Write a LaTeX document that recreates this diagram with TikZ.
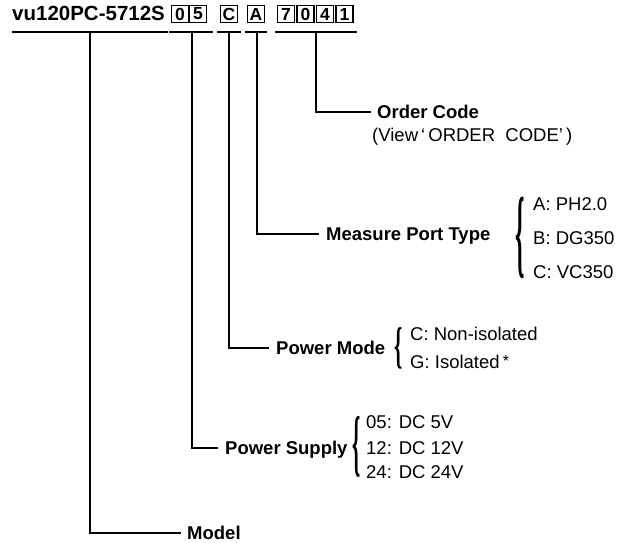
\documentclass[tikz,border=0pt]{standalone}
\usepackage{fontspec}
\setmainfont{Liberation Sans}
\newfontfamily\bracefont{Liberation Serif}
\begin{document}
\begin{tikzpicture}[x=1pt,y=-1pt,
  conn/.style={line width=1.1pt,line cap=rect},
  digit/.style={draw,line width=1.1pt,minimum width=17pt,minimum height=16.5pt,inner sep=0pt,font=\fontsize{17.5}{17.5}\bfseries\selectfont},
  lab/.style={anchor=west,inner sep=0pt,font=\fontsize{18.5}{18.5}\bfseries\selectfont,text height=13pt,text depth=0pt},
  item/.style={anchor=west,inner sep=0pt,font=\fontsize{18.5}{18.5}\selectfont,text height=13pt,text depth=0pt},
  brglyph/.style={inner sep=0pt,anchor=center}]
\useasboundingbox (0,0) rectangle (632,542);
% title and code boxes
\node[anchor=base west,inner sep=0pt,font=\fontsize{20.5}{20.5}\bfseries\selectfont] (title) at (12,20) {vu120PC-5712S};
\node[digit] (d0) at (180,14) {0};
\node[digit] (d5) at (198,14) {5};
\node[digit] (dC) at (229,14) {C};
\node[digit] (dA) at (256,14) {A};
\node[digit] (d7) at (286,14) {7};
\node[digit] (d0b) at (305.5,14) {0};
\node[digit] (d4) at (325,14) {4};
\node[digit] (d1) at (344.5,14) {1};
% underlines
\coordinate (ut1) at (13,32);  \coordinate (ut2) at (167,32);
\coordinate (us1) at (170,32); \coordinate (us2) at (212,32);
\coordinate (um1) at (218,32); \coordinate (um2) at (240,32);
\coordinate (up1) at (246,32); \coordinate (up2) at (266,32);
\coordinate (uo1) at (276,32); \coordinate (uo2) at (356,32);
\draw[conn] (ut1) -- (ut2);
\draw[conn] (us1) -- (us2);
\draw[conn] (um1) -- (um2);
\draw[conn] (up1) -- (up2);
\draw[conn] (uo1) -- (uo2);
\coordinate (vmodel) at (90,32);
\coordinate (vps) at (192,32);
\coordinate (vpm) at (229,32);
\coordinate (vmp) at (257,32);
\coordinate (voc) at (316,32);
% labels
\node[lab] (oc) at (377,112) {Order Code};
\node[item,anchor=west] (ocv) at (372,135) {(View\,‘\,ORDER\ \ CODE’\,)};
\node[lab] (mp) at (326,234) {Measure Port Type};
\node[lab] (pm) at (276,348) {Power Mode};
\node[lab] (ps) at (225,448) {Power Supply};
\node[lab] (model) at (187,533) {Model};
% connectors
\draw[conn] (voc) |- ([xshift=-7pt]oc.west);
\draw[conn] (vmp) |- ([xshift=-8pt]mp.west);
\draw[conn] (vpm) |- ([xshift=-8pt]pm.west);
\draw[conn] (vps) |- ([xshift=-8pt]ps.west);
\draw[conn] (vmodel) |- ([xshift=-7pt]model.west);
% measure port items
\node[item] (mpa) at (533,204) {A: PH2.0};
\node[item] (mpb) at (533,238) {B: DG350};
\node[item] (mpc) at (533,272) {C: VC350};
\node[brglyph] (mpbr) at (520,238) {\scalebox{1}[4.1]{\fontsize{24}{24}\bracefont\bfseries\{}};
% power mode items
\node[item] (pmc) at (410,334) {C: Non-isolated};
\node[item] (pmg) at (410,362) {G: Isolated\,\raisebox{2pt}{\fontsize{16}{16}\selectfont *}};
\node[brglyph] (pmbr) at (399,348) {\scalebox{1}[2.4]{\fontsize{21}{21}\bracefont\bfseries\{}};
% power supply items
\node[item] (ps05) at (366,422) {05: DC 5V};
\node[item] (ps12) at (366,448) {12: DC 12V};
\node[item] (ps24) at (366,472) {24: DC 24V};
\node[brglyph] (psbr) at (357,447) {\scalebox{1}[3.5]{\fontsize{21}{21}\bracefont\bfseries\{}};
\end{tikzpicture}
\end{document}
